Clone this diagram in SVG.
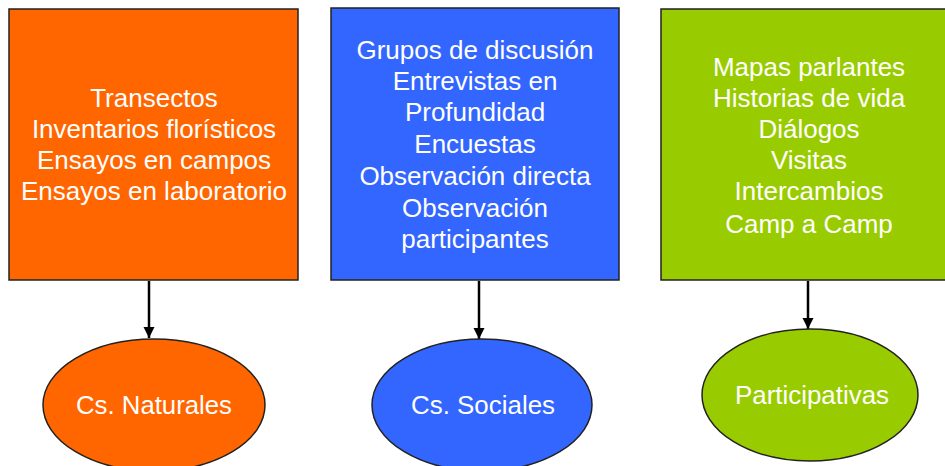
<svg xmlns="http://www.w3.org/2000/svg" width="945" height="466" viewBox="0 0 945 466">
<defs>
<style>
.box{stroke:#222;stroke-width:1.5}
.t{font-family:"Liberation Sans",Arial,sans-serif;font-size:26px;fill:#fff;text-anchor:middle}
.e{font-family:"Liberation Sans",Arial,sans-serif;font-size:26px;fill:#fff;text-anchor:middle}
.c{stroke:#000;stroke-width:2.5;fill:none}
</style>
<marker id="ah" viewBox="0 0 10 10" refX="10" refY="5" markerWidth="4.5" markerHeight="4.5" orient="auto" markerUnits="strokeWidth">
<path d="M0,0 L10,5 L0,10 z" fill="#000"/>
</marker>
</defs>
<rect width="945" height="466" fill="#fff"/>
<g id="connectors">
<line class="c" x1="149" y1="281" x2="149" y2="338" marker-end="url(#ah)"/>
<line class="c" x1="479" y1="281" x2="479" y2="339" marker-end="url(#ah)"/>
<line class="c" x1="808" y1="281" x2="808" y2="329" marker-end="url(#ah)"/>
</g>
<g id="box-naturales">
<rect class="box" x="9" y="9" width="289" height="271" fill="#FF6600"/>
<text class="t" x="154" y="107">Transectos</text>
<text class="t" x="154" y="138">Inventarios florísticos</text>
<text class="t" x="154" y="169">Ensayos en campos</text>
<text class="t" x="154" y="200">Ensayos en laboratorio</text>
</g>
<g id="box-sociales">
<rect class="box" x="331" y="8" width="288" height="272" fill="#3366FF"/>
<text class="t" x="475" y="59">Grupos de discusión</text>
<text class="t" x="475" y="90">Entrevistas en</text>
<text class="t" x="475" y="121">Profundidad</text>
<text class="t" x="475" y="153">Encuestas</text>
<text class="t" x="475" y="185">Observación directa</text>
<text class="t" x="475" y="217">Observación</text>
<text class="t" x="475" y="248">participantes</text>
</g>
<g id="box-participativas">
<rect class="box" x="661" y="9" width="300" height="271" fill="#99CC00"/>
<text class="t" x="809" y="76">Mapas parlantes</text>
<text class="t" x="809" y="107">Historias de vida</text>
<text class="t" x="809" y="138">Diálogos</text>
<text class="t" x="809" y="169">Visitas</text>
<text class="t" x="809" y="200">Intercambios</text>
<text class="t" x="809" y="233">Camp a Camp</text>
</g>
<g id="node-naturales">
<ellipse class="box" cx="154" cy="405" rx="111" ry="66" fill="#FF6600"/>
<text class="e" x="154" y="414" textLength="156" lengthAdjust="spacingAndGlyphs">Cs. Naturales</text>
</g>
<g id="node-sociales">
<ellipse class="box" cx="482" cy="405" rx="110" ry="66" fill="#3366FF"/>
<text class="e" x="483" y="414" textLength="144" lengthAdjust="spacingAndGlyphs">Cs. Sociales</text>
</g>
<g id="node-participativas">
<ellipse class="box" cx="810" cy="395" rx="108" ry="66" fill="#99CC00"/>
<text class="e" x="812" y="404" textLength="154" lengthAdjust="spacingAndGlyphs">Participativas</text>
</g>
</svg>
